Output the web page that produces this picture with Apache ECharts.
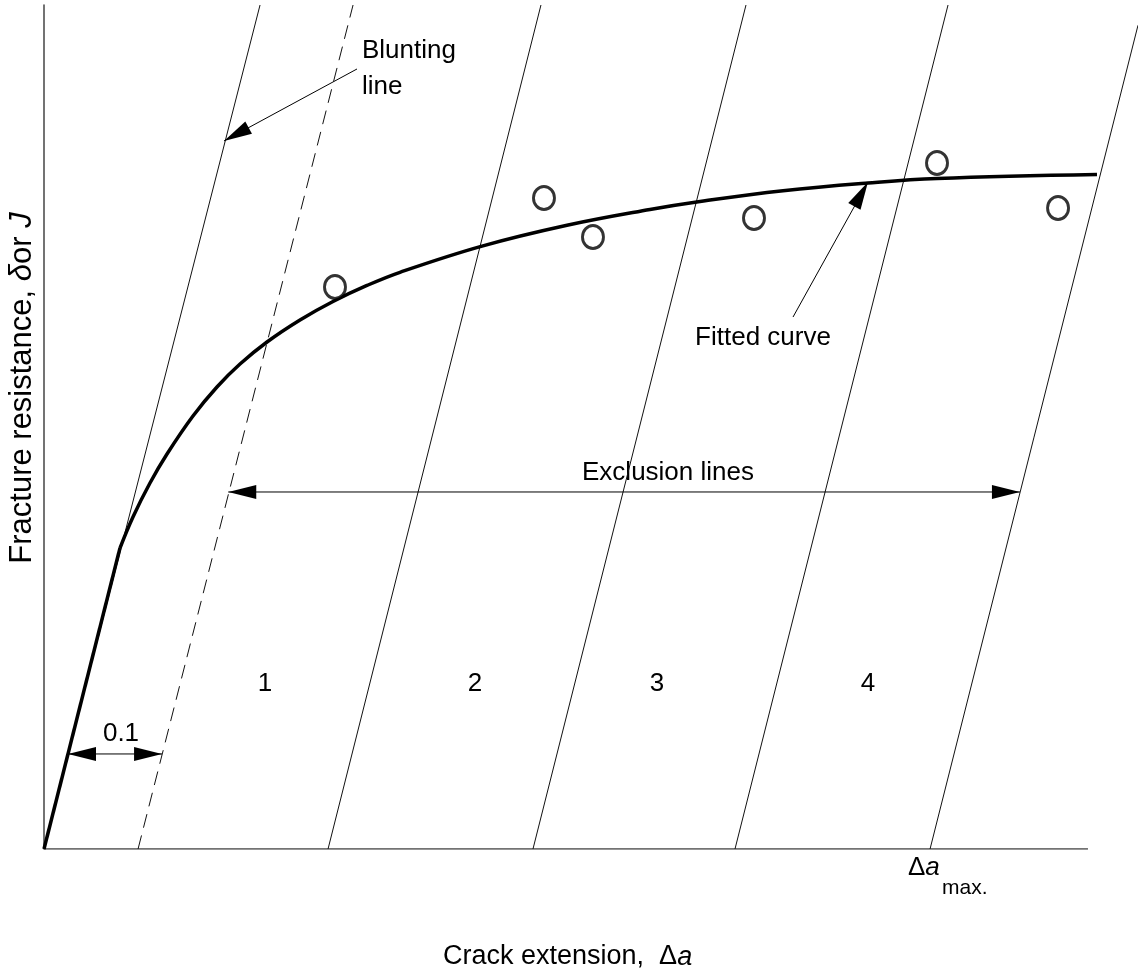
<!DOCTYPE html>
<html>
<head>
<meta charset="utf-8">
<style>
  html, body { margin: 0; padding: 0; background: #fff; }
  #chart { width: 1138px; height: 975px; }
</style>
<script src="https://cdn.jsdelivr.net/npm/echarts@6/dist/echarts.min.js"></script>
</head>
<body>
<div id="chart"></div>
<script>
// ---- Data (x: crack extension, mm-like units; y: normalised resistance) ----
const xRange = [0, 1.1632];        // plotting extent (up to the right edge of the picture)
const xAxisEnd = 1.11;             // where the drawn x axis line stops
const yRange = [0, 1.0];

// thin solid construction line through the origin (blunting line slope)
const originLine = [[0, 0], [0.2297, 1.0]];
// dashed 0.1 offset line
const offsetLine = [[0.1, 0], [0.3286, 1.0]];
// further parallel exclusion lines
const exclusionLineA = [[0.302, 0], [0.5284, 1.0]];
const exclusionLineB = [[0.5199, 0], [0.7464, 1.0]];
const exclusionLineC = [[0.7347, 0], [0.9612, 1.0]];
const exclusionLineD = [[0.9421, 0], [1.1632, 0.976]];   // runs off the right edge

// fitted resistance curve: initial blunting part, then the fitted curve
const bluntingPart = [[0, 0], [0.0808, 0.3566]];
const fittedX = [0.0808, 0.0946, 0.1127, 0.1308, 0.1584, 0.1839, 0.2084, 0.2371, 0.2722, 0.3073,
                 0.3434, 0.3785, 0.4657, 0.5561, 0.6443, 0.6975, 0.7858, 0.8761, 0.9495, 1.1196];
const fittedY = [0.3566, 0.3934, 0.4336, 0.4680, 0.5130, 0.5474, 0.5746, 0.6007, 0.6268, 0.6487,
                 0.6677, 0.6833, 0.7143, 0.7390, 0.7577, 0.7672, 0.7800, 0.7891, 0.7944, 0.7991];

// measured points
const pointX = [0.3094, 0.5316, 0.5837, 0.7549, 0.9495, 1.0782];
const pointY = [0.6659, 0.7713, 0.7251, 0.7476, 0.8128, 0.7595];

// annotation arrows: [x1, y1, x2, y2, headAtStart, headAtEnd]
const arrows = [
  [0.3328, 0.9242, 0.1914, 0.8389, 0, 1],   // "Blunting line" pointer
  [0.1959, 0.4230, 1.0377, 0.4230, 1, 1],   // "Exclusion lines"
  [0.0255, 0.1126, 0.1255, 0.1126, 1, 1],   // "0.1"
  [0.7964, 0.6303, 0.8761, 0.7903, 0, 1]    // "Fitted curve" pointer
];

// region labels
const regionLabels = ['1', '2', '3', '4'];

// ---- Build chart ----
const FONT = '"Liberation Sans", Arial, Helvetica, sans-serif';
const chart = echarts.init(document.getElementById('chart'), null, { renderer: 'canvas' });

function thin(data, dashed) {
  return {
    type: 'line', data: data, symbol: 'none', silent: true, clip: false,
    lineStyle: { color: '#111', width: 1, type: dashed ? [14, 8] : 'solid' },
    z: 2
  };
}

const regionLabelPos = [[265, 684], [475, 684], [657, 684], [868, 684]];

const graphics = [
  { type: 'text', x: 362, y: 51, style: { text: 'Blunting', font: '26px ' + FONT, fill: '#000', textAlign: 'left', textVerticalAlign: 'middle' } },
  { type: 'text', x: 362, y: 87, style: { text: 'line', font: '26px ' + FONT, fill: '#000', textAlign: 'left', textVerticalAlign: 'middle' } },
  { type: 'text', x: 763, y: 338, style: { text: 'Fitted curve', font: '26px ' + FONT, fill: '#000', textAlign: 'center', textVerticalAlign: 'middle' } },
  { type: 'text', x: 668, y: 473, style: { text: 'Exclusion lines', font: '26px ' + FONT, fill: '#000', textAlign: 'center', textVerticalAlign: 'middle' } },
  { type: 'text', x: 121, y: 734, style: { text: '0.1', font: '26px ' + FONT, fill: '#000', textAlign: 'center', textVerticalAlign: 'middle' } },
  { type: 'text', x: 908, y: 868, style: {
      text: '{n|Δ}{i|a}', textAlign: 'left', textVerticalAlign: 'middle',
      rich: { n: { font: '26px ' + FONT, fill: '#000' }, i: { font: 'italic 26px ' + FONT, fill: '#000' } } } },
  { type: 'text', x: 942, y: 888, style: { text: 'max.', font: '21px ' + FONT, fill: '#000', textAlign: 'left', textVerticalAlign: 'middle' } },
  { type: 'text', x: 443, y: 957, style: {
      text: '{n|Crack extension,  Δ}{i|a}', textAlign: 'left', textVerticalAlign: 'middle',
      rich: { n: { font: '27px ' + FONT, fill: '#000' }, i: { font: 'italic 27px ' + FONT, fill: '#000' } } } },
  { type: 'text', x: 22, y: 388, rotation: Math.PI / 2, style: {
      text: '{n|Fracture resistance, }{i|δ}{n|or }{i|J}', textAlign: 'center', textVerticalAlign: 'middle',
      rich: { n: { font: '31px ' + FONT, fill: '#000' }, i: { font: 'italic 31px ' + FONT, fill: '#000' } } } }
];
regionLabels.forEach(function (t, i) {
  graphics.push({ type: 'text', x: regionLabelPos[i][0], y: regionLabelPos[i][1],
    style: { text: t, font: '26px ' + FONT, fill: '#000', textAlign: 'center', textVerticalAlign: 'middle' } });
});

const option = {
  animation: false,
  backgroundColor: '#fff',
  grid: { left: 44, top: 5, width: 1094, height: 844, containLabel: false },
  xAxis: {
    type: 'value', min: xRange[0], max: xRange[1],
    axisLine: { show: false },
    axisTick: { show: false }, axisLabel: { show: false }, splitLine: { show: false }
  },
  yAxis: {
    type: 'value', min: yRange[0], max: yRange[1],
    axisLine: { show: true, onZero: false, lineStyle: { color: '#444', width: 1.5 } },
    axisTick: { show: false }, axisLabel: { show: false }, splitLine: { show: false }
  },
  series: [
    {
      // drawn x axis line (stops short of the plotting extent)
      type: 'line', data: [[0, 0], [xAxisEnd, 0]], symbol: 'none', silent: true,
      lineStyle: { color: '#444', width: 1.5 }, z: 1
    },
    thin(originLine, false),
    thin(offsetLine, true),
    thin(exclusionLineA, false),
    thin(exclusionLineB, false),
    thin(exclusionLineC, false),
    thin(exclusionLineD, false),
    {
      type: 'line', data: bluntingPart, symbol: 'none', silent: true, clip: false,
      lineStyle: { color: '#000', width: 3.5 }, z: 3
    },
    {
      type: 'line', data: fittedX.map(function (x, i) { return [x, fittedY[i]]; }),
      symbol: 'none', smooth: 0.4, silent: true, clip: false,
      lineStyle: { color: '#000', width: 3.5 }, z: 3
    },
    {
      type: 'scatter', data: pointX.map(function (x, i) { return [x, pointY[i]]; }),
      symbol: 'circle', symbolSize: [21, 23], silent: true,
      itemStyle: { color: '#fff', borderColor: '#000', borderWidth: 3 }, z: 4
    },
    {
      type: 'custom', data: arrows, silent: true, clip: false, z: 5,
      renderItem: function (params, api) {
        const p1 = api.coord([api.value(0), api.value(1)]);
        const p2 = api.coord([api.value(2), api.value(3)]);
        const children = [{
          type: 'line', shape: { x1: p1[0], y1: p1[1], x2: p2[0], y2: p2[1] },
          style: { stroke: '#000', lineWidth: 1 }
        }];
        function head(tip, from) {
          const dx = tip[0] - from[0], dy = tip[1] - from[1];
          const L = Math.sqrt(dx * dx + dy * dy);
          const ux = dx / L, uy = dy / L;
          const len = 28, w = 7;
          const bx = tip[0] - ux * len, by = tip[1] - uy * len;
          return {
            type: 'polygon',
            shape: { points: [[tip[0], tip[1]], [bx - uy * w, by + ux * w], [bx + uy * w, by - ux * w]] },
            style: { fill: '#000', stroke: null }
          };
        }
        if (api.value(4)) children.push(head(p1, p2));
        if (api.value(5)) children.push(head(p2, p1));
        return { type: 'group', children: children };
      }
    }
  ],
  graphic: graphics
};
chart.setOption(option);
</script>
</body>
</html>
